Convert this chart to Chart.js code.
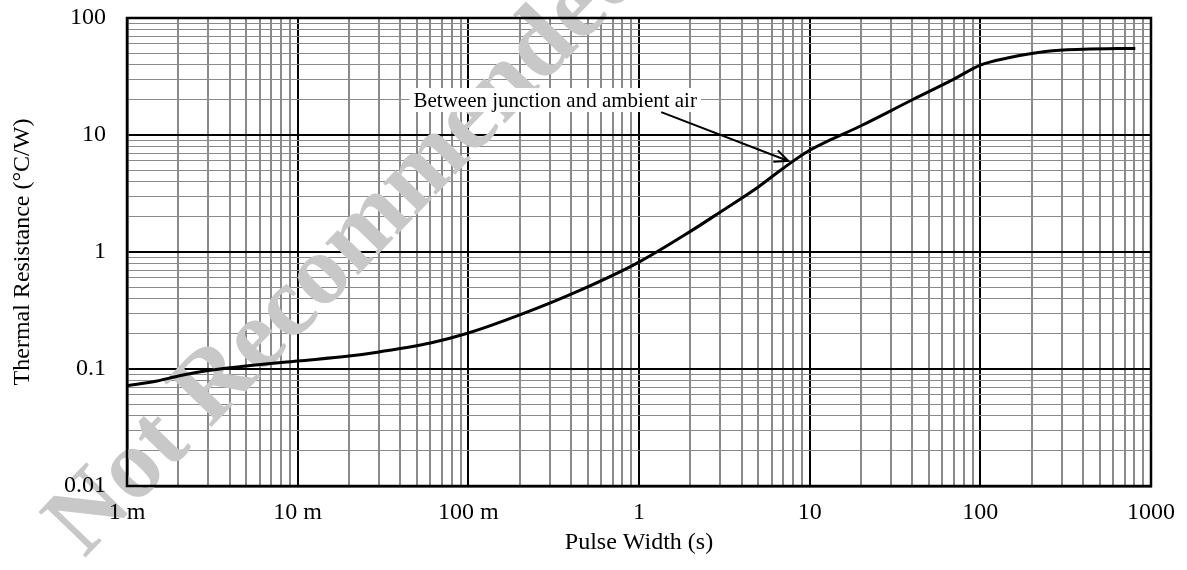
<!DOCTYPE html>
<html>
<head>
<meta charset="utf-8">
<script src="https://cdn.jsdelivr.net/npm/chart.js@4.4.1/dist/chart.umd.min.js"></script>
<style>
html,body{margin:0;padding:0;background:#fff;}
#wrap{width:1187px;height:570px;position:relative;}
</style>
</head>
<body>
<div id="wrap"><canvas id="c" width="1187" height="570"></canvas></div>
<script>
// ---- data ----
const pulseWidth = [0.001, 0.0015, 0.002, 0.003, 0.005, 0.01, 0.02, 0.03, 0.06, 0.1, 0.2, 0.45, 1, 2, 3, 5, 7, 10, 20, 40, 70, 100, 144, 247, 402, 809];
const thermalResistance = [0.072, 0.079, 0.087, 0.097, 0.106, 0.117, 0.129, 0.14, 0.167, 0.203, 0.29, 0.47, 0.82, 1.5, 2.2, 3.6, 5.2, 7.4, 12, 20, 30, 39.6, 45.5, 52, 54, 55];

const xMajorTicks = [0.001, 0.01, 0.1, 1, 10, 100, 1000];
const xTickLabels = ['1 m', '10 m', '100 m', '1', '10', '100', '1000'];
const yMajorTicks = [0.01, 0.1, 1, 10, 100];
const yTickLabels = ['0.01', '0.1', '1', '10', '100'];
const minorMultipliers = [2, 3, 4, 5, 6, 7, 8, 9];

const xTitle = 'Pulse Width (s)';
const yTitle = 'Thermal Resistance (°C/W)';
const annotationText = 'Between junction and ambient air';
const annotationTextAt = {x: 0.323, y: 19.9};
const annotationArrowFrom = {x: 1.35, y: 15.7};
const annotationArrowTo = {x: 7.5, y: 6.0};
const watermarkText = 'Not Recommended';

const FONT = "'Liberation Serif', 'Times New Roman', serif";

function buildTicks(majors) {
  const out = [];
  majors.forEach((m, i) => {
    out.push({value: m, major: true});
    if (i < majors.length - 1) minorMultipliers.forEach(k => out.push({value: m * k, major: false}));
  });
  return out;
}
function isMajor(v) {
  const l = Math.log10(v);
  return Math.abs(l - Math.round(l)) < 1e-6;
}
function labelFor(v, majors, labels) {
  for (let i = 0; i < majors.length; i++) {
    if (Math.abs(Math.log10(v) - Math.log10(majors[i])) < 1e-6) return labels[i];
  }
  return '';
}

const watermarkPlugin = {
  id: 'watermark',
  beforeDatasetsDraw(chart) {
    const ctx = chart.ctx;
    ctx.save();
    ctx.font = "bold 100px " + FONT;
    ctx.fillStyle = '#c8c8c8';
    ctx.textAlign = 'center';
    ctx.textBaseline = 'alphabetic';
    ctx.translate(367, 266);
    ctx.rotate(-46 * Math.PI / 180);
    ctx.fillText(watermarkText, 0, 0);
    ctx.restore();
    const a = chart.chartArea;
    ctx.save();
    ctx.strokeStyle = '#000';
    ctx.lineWidth = 2.5;
    ctx.strokeRect(a.left, a.top, a.right - a.left, a.bottom - a.top);
    ctx.restore();
  }
};

const annotationPlugin = {
  id: 'annot',
  afterDatasetsDraw(chart) {
    const ctx = chart.ctx;
    const xs = chart.scales.x, ys = chart.scales.y;
    ctx.save();
    ctx.font = "21px " + FONT;
    const tx = xs.getPixelForValue(annotationTextAt.x);
    const ty = ys.getPixelForValue(annotationTextAt.y);
    const w = ctx.measureText(annotationText).width;
    ctx.fillStyle = '#fff';
    ctx.fillRect(tx - w / 2 - 4, ty - 12, w + 8, 24);
    ctx.fillStyle = '#000';
    ctx.textAlign = 'center';
    ctx.textBaseline = 'middle';
    ctx.fillText(annotationText, tx, ty + 1);
    const x1 = xs.getPixelForValue(annotationArrowFrom.x), y1 = ys.getPixelForValue(annotationArrowFrom.y);
    const x2 = xs.getPixelForValue(annotationArrowTo.x), y2 = ys.getPixelForValue(annotationArrowTo.y);
    ctx.strokeStyle = '#000';
    ctx.lineWidth = 2;
    ctx.beginPath();
    ctx.moveTo(x1, y1);
    ctx.lineTo(x2, y2);
    const ang = Math.atan2(y2 - y1, x2 - x1);
    const L = 15, spread = 0.42;
    ctx.moveTo(x2 - L * Math.cos(ang - spread), y2 - L * Math.sin(ang - spread));
    ctx.lineTo(x2, y2);
    ctx.lineTo(x2 - L * Math.cos(ang + spread), y2 - L * Math.sin(ang + spread));
    ctx.stroke();
    ctx.restore();
  }
};

const points = pulseWidth.map((x, i) => ({x: x, y: thermalResistance[i]}));

new Chart(document.getElementById('c'), {
  type: 'line',
  data: {
    datasets: [{
      data: points,
      borderColor: '#000',
      borderWidth: 3,
      pointRadius: 0,
      fill: false,
      cubicInterpolationMode: 'monotone'
    }]
  },
  options: {
    responsive: false,
    animation: false,
    devicePixelRatio: 1,
    layout: {padding: {top: 18, right: 36, left: 0, bottom: 0}},
    plugins: {legend: {display: false}, tooltip: {enabled: false}},
    scales: {
      x: {
        type: 'logarithmic',
        min: 0.001,
        max: 1000,
        afterBuildTicks(scale) { scale.ticks = buildTicks(xMajorTicks); },
        afterFit(scale) { scale.height = 84; scale.paddingLeft = 0; scale.paddingRight = 0; },
        ticks: {
          autoSkip: false,
          maxRotation: 0,
          padding: 12,
          color: '#000',
          font: {family: FONT, size: 24},
          z: 1,
          callback: (v) => labelFor(v, xMajorTicks, xTickLabels)
        },
        grid: {
          drawTicks: false,
          color: (c) => (c.tick && isMajor(c.tick.value)) ? '#000' : '#8a8a8a',
          lineWidth: 2
        },
        border: {display: true, color: '#000', width: 2.5},
        title: {display: true, text: xTitle, color: '#000', font: {family: FONT, size: 24}, padding: {top: 4, bottom: 13}}
      },
      y: {
        type: 'logarithmic',
        min: 0.01,
        max: 100,
        afterBuildTicks(scale) { scale.ticks = buildTicks(yMajorTicks); },
        afterFit(scale) { scale.width = 127; scale.paddingTop = 0; scale.paddingBottom = 0; },
        ticks: {
          autoSkip: false,
          padding: 21,
          color: '#000',
          font: {family: FONT, size: 24},
          z: 1,
          callback: (v) => labelFor(v, yMajorTicks, yTickLabels)
        },
        grid: {
          drawTicks: false,
          color: (c) => (c.tick && isMajor(c.tick.value)) ? '#000' : '#8a8a8a',
          lineWidth: (c) => (c.tick && isMajor(c.tick.value)) ? 2 : 1
        },
        border: {display: true, color: '#000', width: 2.5},
        title: {display: true, text: yTitle, color: '#000', font: {family: FONT, size: 24}, padding: {top: 8, bottom: 4}}
      }
    }
  },
  plugins: [watermarkPlugin, annotationPlugin]
});
</script>
</body>
</html>
